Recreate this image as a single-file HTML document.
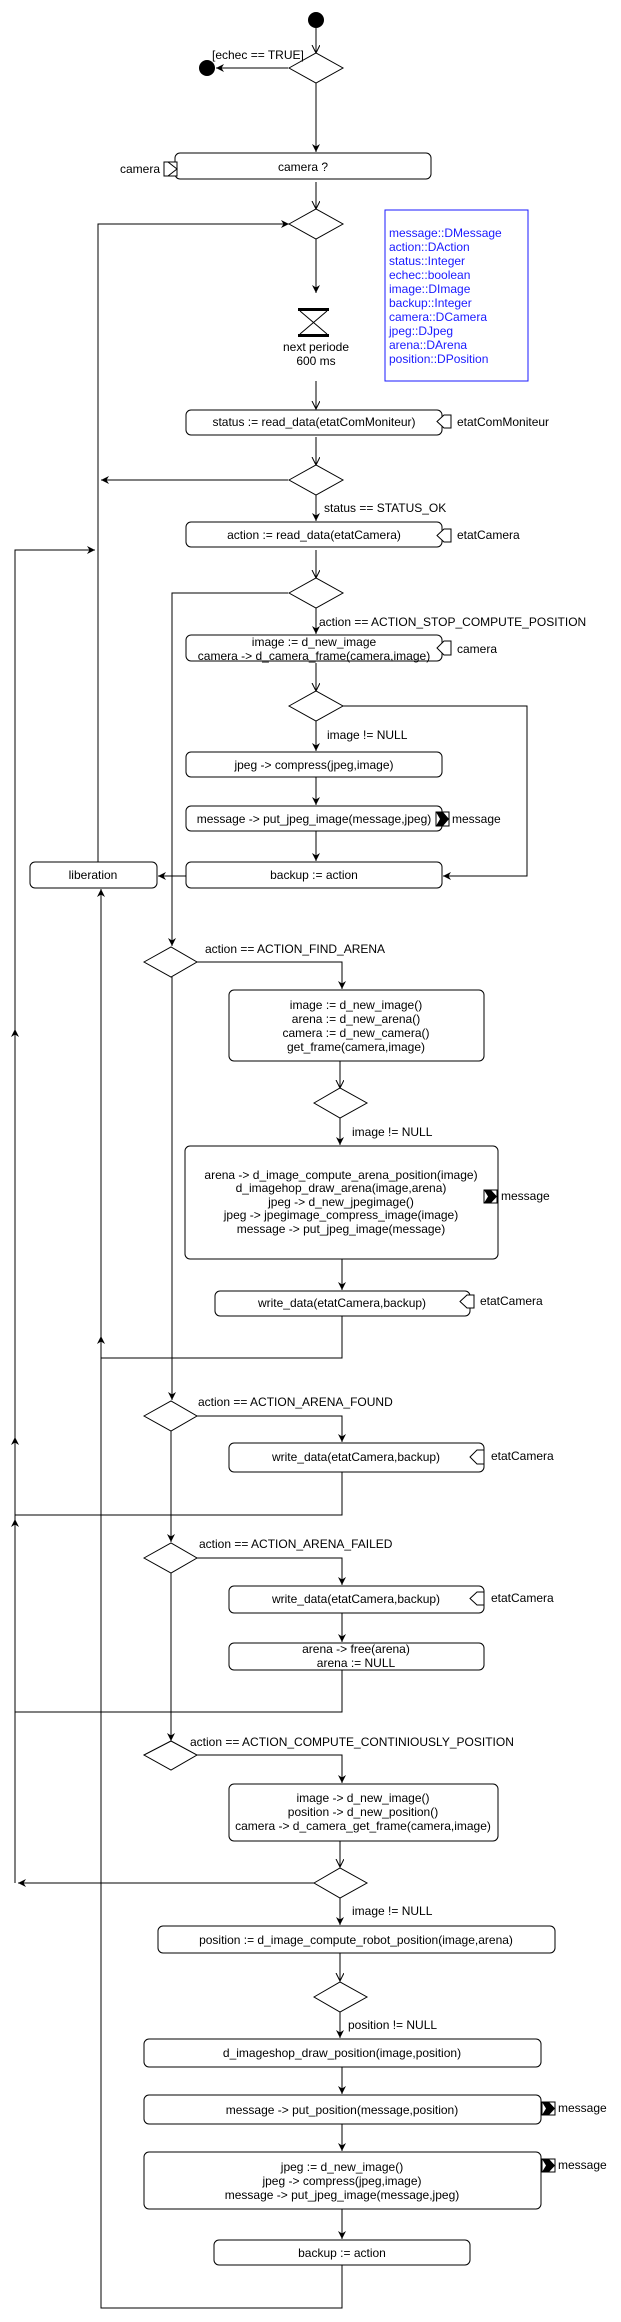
<!DOCTYPE html>
<html><head><meta charset="utf-8"><style>
html,body{margin:0;padding:0;background:#fff;}
svg{display:block;}
text{font-family:"Liberation Sans",Arial,sans-serif;font-size:12px;fill:#000;}
.c{text-anchor:middle;dominant-baseline:central;}
.l{dominant-baseline:central;}
.b{fill:#fff;stroke:#000;stroke-width:1;}
.e{fill:none;stroke:#000;stroke-width:1;}
.blue{fill:#1a1aff;}
</style></head><body>
<svg width="621" height="2322" viewBox="0 0 621 2322" xmlns="http://www.w3.org/2000/svg">
<defs>
<marker id="a" markerWidth="10" markerHeight="10" refX="8" refY="4" orient="auto" markerUnits="userSpaceOnUse">
<path d="M0,0 L8,4 L0,8 L2.5,4 z" fill="#000"/>
</marker>
<marker id="o" markerWidth="10" markerHeight="10" refX="8" refY="4" orient="auto" markerUnits="userSpaceOnUse">
<path d="M0,0 L8,4 L0,8" fill="none" stroke="#000"/>
</marker>
</defs>

<!-- start / end -->
<circle cx="316" cy="20" r="8" fill="#000"/>
<circle cx="207" cy="68" r="8" fill="#000"/>

<!-- edges -->
<g class="e">
<line x1="316" y1="28" x2="316" y2="53" marker-end="url(#o)"/>
<line x1="288" y1="68" x2="216" y2="68" marker-end="url(#a)"/>
<line x1="316" y1="83" x2="316" y2="152" marker-end="url(#a)"/>
<line x1="316" y1="182" x2="316" y2="209" marker-end="url(#o)"/>
<polyline points="98,862 98,224 289,224" marker-end="url(#a)"/>
<line x1="316" y1="239" x2="316" y2="293" marker-end="url(#a)"/>
<line x1="316" y1="381" x2="316" y2="409" marker-end="url(#o)"/>
<line x1="316" y1="437" x2="316" y2="465" marker-end="url(#o)"/>
<line x1="288" y1="480" x2="101" y2="480" marker-end="url(#a)"/>
<line x1="316" y1="495" x2="316" y2="521" marker-end="url(#a)"/>
<polyline points="15,1883 15,550 95,550" marker-end="url(#a)"/>
<line x1="15" y1="1040" x2="15" y2="1029" marker-end="url(#a)"/>
<line x1="15" y1="1448" x2="15" y2="1437" marker-end="url(#a)"/>
<line x1="15" y1="1530" x2="15" y2="1519" marker-end="url(#a)"/>
<line x1="316" y1="550" x2="316" y2="578" marker-end="url(#o)"/>
<polyline points="288,593 172,593 172,946" marker-end="url(#a)"/>
<line x1="316" y1="608" x2="316" y2="634" marker-end="url(#a)"/>
<line x1="316" y1="663" x2="316" y2="691" marker-end="url(#o)"/>
<polyline points="342,706 527,706 527,876 443,876" marker-end="url(#a)"/>
<line x1="316" y1="721" x2="316" y2="751" marker-end="url(#a)"/>
<line x1="316" y1="777" x2="316" y2="805" marker-end="url(#a)"/>
<line x1="316" y1="831" x2="316" y2="861" marker-end="url(#a)"/>
<line x1="186" y1="876" x2="158" y2="876" marker-end="url(#a)"/>
<polyline points="342,2265 342,2308 101,2308 101,889" marker-end="url(#a)"/>
<line x1="101" y1="1347" x2="101" y2="1336" marker-end="url(#a)"/>
<polyline points="196,962 342,962 342,989" marker-end="url(#a)"/>
<line x1="340" y1="1061" x2="340" y2="1088" marker-end="url(#o)"/>
<line x1="340" y1="1118" x2="340" y2="1145" marker-end="url(#a)"/>
<line x1="342" y1="1259" x2="342" y2="1290" marker-end="url(#a)"/>
<polyline points="342,1316 342,1358 101,1358"/>
<line x1="172" y1="977" x2="172" y2="1400" marker-end="url(#a)"/>
<polyline points="196,1416 342,1416 342,1442" marker-end="url(#a)"/>
<polyline points="342,1472 342,1515 15,1515"/>
<line x1="171" y1="1431" x2="171" y2="1542" marker-end="url(#a)"/>
<polyline points="196,1558 342,1558 342,1585" marker-end="url(#a)"/>
<line x1="342" y1="1613" x2="342" y2="1642" marker-end="url(#a)"/>
<polyline points="342,1670 342,1712 15,1712"/>
<line x1="171" y1="1573" x2="171" y2="1741" marker-end="url(#a)"/>
<polyline points="196,1755 342,1755 342,1783" marker-end="url(#a)"/>
<line x1="340" y1="1841" x2="340" y2="1867" marker-end="url(#o)"/>
<line x1="314" y1="1883" x2="18" y2="1883" marker-end="url(#a)"/>
<line x1="340" y1="1898" x2="340" y2="1925" marker-end="url(#a)"/>
<line x1="340" y1="1953" x2="340" y2="1981" marker-end="url(#o)"/>
<line x1="340" y1="2012" x2="340" y2="2038" marker-end="url(#a)"/>
<line x1="342" y1="2067" x2="342" y2="2094" marker-end="url(#a)"/>
<line x1="342" y1="2124" x2="342" y2="2151" marker-end="url(#a)"/>
<line x1="342" y1="2209" x2="342" y2="2239" marker-end="url(#a)"/>
</g>

<!-- diamonds -->
<g class="b">
<polygon points="289,68 316,53 343,68 316,83"/>
<polygon points="289,224 316,209 343,224 316,239"/>
<polygon points="289,480 316,465 343,480 316,495"/>
<polygon points="289,593 316,578 343,593 316,608"/>
<polygon points="289,706 316,691 343,706 316,721"/>
<polygon points="144,962 171,947 197,962 171,977"/>
<polygon points="314,1103 340,1088 367,1103 340,1118"/>
<polygon points="144,1416 171,1401 197,1416 171,1431"/>
<polygon points="144,1558 171,1543 197,1558 171,1573"/>
<polygon points="144,1755 171,1741 197,1755 171,1770"/>
<polygon points="314,1883 340,1868 367,1883 340,1898"/>
<polygon points="314,1997 340,1982 367,1997 340,2012"/>
</g>

<!-- boxes -->
<g class="b">
<rect x="175" y="153" width="256" height="26" rx="5"/>
<rect x="186" y="410" width="256" height="25" rx="5"/>
<rect x="186" y="522" width="256" height="25" rx="5"/>
<rect x="186" y="635" width="256" height="26" rx="5"/>
<rect x="186" y="752" width="256" height="25" rx="5"/>
<rect x="186" y="806" width="256" height="25" rx="5"/>
<rect x="186" y="862" width="256" height="26" rx="5"/>
<rect x="30" y="862" width="127" height="26" rx="5"/>
<rect x="229" y="990" width="255" height="71" rx="5"/>
<rect x="185" y="1146" width="313" height="113" rx="5"/>
<rect x="215" y="1291" width="255" height="25" rx="5"/>
<rect x="229" y="1443" width="255" height="29" rx="5"/>
<rect x="229" y="1586" width="255" height="27" rx="5"/>
<rect x="229" y="1643" width="255" height="27" rx="5"/>
<rect x="229" y="1784" width="269" height="57" rx="5"/>
<rect x="158" y="1926" width="397" height="27" rx="5"/>
<rect x="144" y="2039" width="397" height="28" rx="5"/>
<rect x="144" y="2095" width="397" height="29" rx="5"/>
<rect x="144" y="2152" width="397" height="57" rx="5"/>
<rect x="214" y="2240" width="256" height="25" rx="5"/>
</g>

<!-- pins -->
<g class="b">
<rect x="164" y="162" width="13" height="14"/>
<polyline points="168,162 177,169 168,176" class="e"/>
<polygon points="444,415 451,415 451,428 444,428 437,421.5"/>
<polygon points="444,529 451,529 451,542 444,542 437,535.5"/>
<polygon points="444,641 451,641 451,655 444,655 437,648"/>
<polygon points="467,1295 474,1295 474,1308 467,1308 460,1301.5"/>
<polygon points="477,1450 484,1450 484,1464 477,1464 470,1457"/>
<polygon points="477,1592 484,1592 484,1605 477,1605 470,1598.5"/>
<rect x="436" y="812" width="13" height="14"/>
<rect x="484" y="1190" width="13" height="13"/>
<rect x="542" y="2102" width="13" height="13"/>
<rect x="542" y="2159" width="13" height="13"/>
</g>
<g fill="#000">
<polygon points="436,812 443,812 449,819 443,826 436,826 440,819"/>
<polygon points="484,1190 491,1190 497,1196.5 491,1203 484,1203 488,1196.5"/>
<polygon points="542,2102 549,2102 555,2108.5 549,2115 542,2115 546,2108.5"/>
<polygon points="542,2159 549,2159 555,2165.5 549,2172 542,2172 546,2165.5"/>
</g>

<!-- hourglass -->
<rect x="298" y="308" width="31" height="3" fill="#000"/>
<rect x="298" y="334" width="31" height="3" fill="#000"/>
<polyline points="300,311 327,334" class="e"/>
<polyline points="327,311 300,334" class="e"/>

<!-- blue var box -->
<rect x="385" y="210" width="143" height="171" fill="#fff" stroke="#1a1aff"/>
<g class="blue">
<text x="389" y="233" class="l blue">message::DMessage</text>
<text x="389" y="247" class="l blue">action::DAction</text>
<text x="389" y="261" class="l blue">status::Integer</text>
<text x="389" y="275" class="l blue">echec::boolean</text>
<text x="389" y="289" class="l blue">image::DImage</text>
<text x="389" y="303" class="l blue">backup::Integer</text>
<text x="389" y="317" class="l blue">camera::DCamera</text>
<text x="389" y="331" class="l blue">jpeg::DJpeg</text>
<text x="389" y="345" class="l blue">arena::DArena</text>
<text x="389" y="359" class="l blue">position::DPosition</text>
</g>

<!-- texts -->
<text x="212" y="55" class="l">[echec == TRUE]</text>
<text x="303" y="167" class="c">camera ?</text>
<text x="120" y="169" class="l">camera</text>
<text x="316" y="347" class="c">next periode</text>
<text x="316" y="361" class="c">600 ms</text>
<text x="314" y="422" class="c">status := read_data(etatComMoniteur)</text>
<text x="457" y="422" class="l">etatComMoniteur</text>
<text x="324" y="508" class="l">status == STATUS_OK</text>
<text x="314" y="535" class="c">action := read_data(etatCamera)</text>
<text x="457" y="535" class="l">etatCamera</text>
<text x="319" y="622" class="l">action == ACTION_STOP_COMPUTE_POSITION</text>
<text x="314" y="642" class="c">image := d_new_image</text>
<text x="314" y="656" class="c">camera -&gt; d_camera_frame(camera,image)</text>
<text x="457" y="649" class="l">camera</text>
<text x="327" y="735" class="l">image != NULL</text>
<text x="314" y="765" class="c">jpeg -&gt; compress(jpeg,image)</text>
<text x="314" y="819" class="c">message -&gt; put_jpeg_image(message,jpeg)</text>
<text x="452" y="819" class="l">message</text>
<text x="314" y="875" class="c">backup := action</text>
<text x="93" y="875" class="c">liberation</text>
<text x="205" y="949" class="l">action == ACTION_FIND_ARENA</text>
<text x="356" y="1005" class="c">image := d_new_image()</text>
<text x="356" y="1019" class="c">arena := d_new_arena()</text>
<text x="356" y="1033" class="c">camera := d_new_camera()</text>
<text x="356" y="1047" class="c">get_frame(camera,image)</text>
<text x="352" y="1132" class="l">image != NULL</text>
<text x="341" y="1175" class="c">arena -&gt; d_image_compute_arena_position(image)</text>
<text x="341" y="1188" class="c">d_imagehop_draw_arena(image,arena)</text>
<text x="341" y="1202" class="c">jpeg -&gt; d_new_jpegimage()</text>
<text x="341" y="1215" class="c">jpeg -&gt; jpegimage_compress_image(image)</text>
<text x="341" y="1229" class="c">message -&gt; put_jpeg_image(message)</text>
<text x="501" y="1196" class="l">message</text>
<text x="342" y="1303" class="c">write_data(etatCamera,backup)</text>
<text x="480" y="1301" class="l">etatCamera</text>
<text x="198" y="1402" class="l">action == ACTION_ARENA_FOUND</text>
<text x="356" y="1457" class="c">write_data(etatCamera,backup)</text>
<text x="491" y="1456" class="l">etatCamera</text>
<text x="199" y="1544" class="l">action == ACTION_ARENA_FAILED</text>
<text x="356" y="1599" class="c">write_data(etatCamera,backup)</text>
<text x="491" y="1598" class="l">etatCamera</text>
<text x="356" y="1649" class="c">arena -&gt; free(arena)</text>
<text x="356" y="1663" class="c">arena := NULL</text>
<text x="190" y="1742" class="l">action == ACTION_COMPUTE_CONTINIOUSLY_POSITION</text>
<text x="363" y="1798" class="c">image -&gt; d_new_image()</text>
<text x="363" y="1812" class="c">position -&gt; d_new_position()</text>
<text x="363" y="1826" class="c">camera -&gt; d_camera_get_frame(camera,image)</text>
<text x="352" y="1911" class="l">image != NULL</text>
<text x="356" y="1940" class="c">position := d_image_compute_robot_position(image,arena)</text>
<text x="348" y="2025" class="l">position != NULL</text>
<text x="342" y="2053" class="c">d_imageshop_draw_position(image,position)</text>
<text x="342" y="2110" class="c">message -&gt; put_position(message,position)</text>
<text x="558" y="2108" class="l">message</text>
<text x="342" y="2167" class="c">jpeg := d_new_image()</text>
<text x="342" y="2181" class="c">jpeg -&gt; compress(jpeg,image)</text>
<text x="342" y="2195" class="c">message -&gt; put_jpeg_image(message,jpeg)</text>
<text x="558" y="2165" class="l">message</text>
<text x="342" y="2253" class="c">backup := action</text>
</svg>
</body></html>
